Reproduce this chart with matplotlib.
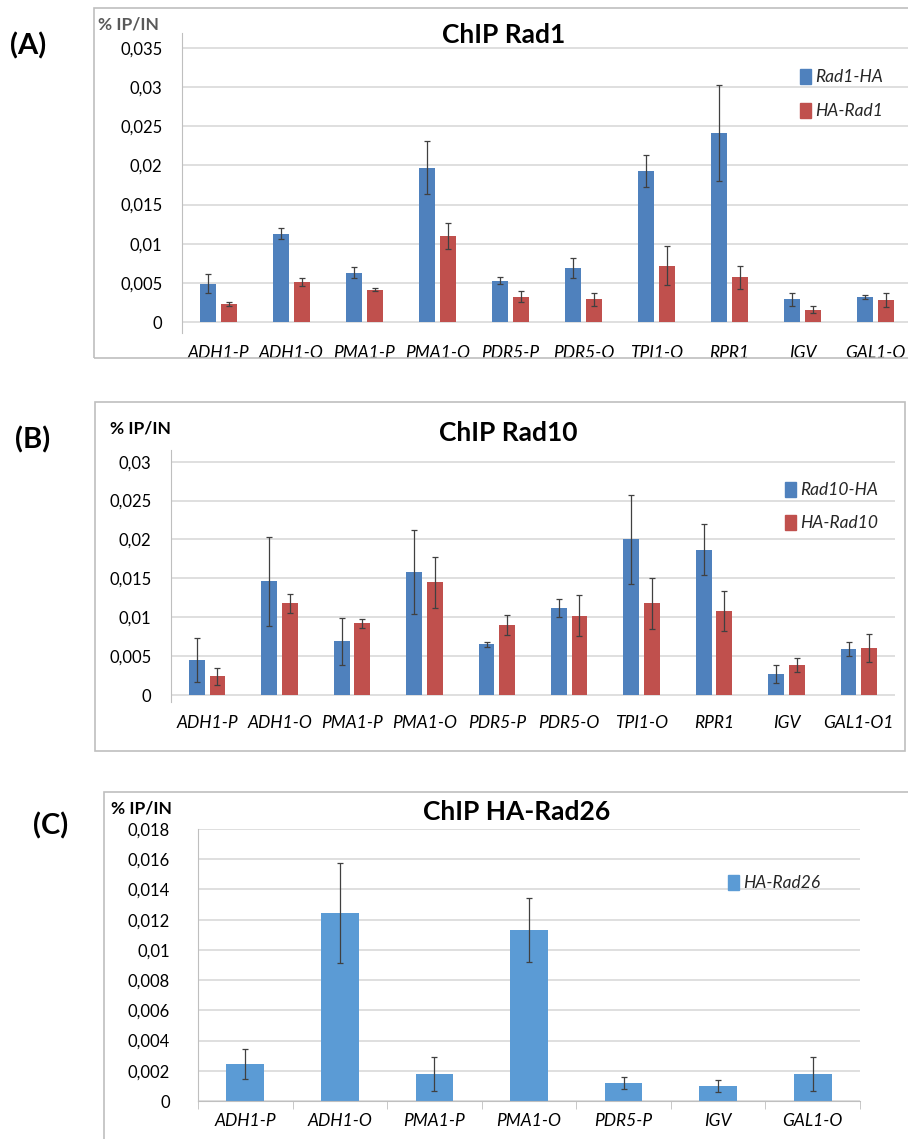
import matplotlib
matplotlib.use("Agg")
import matplotlib.pyplot as plt
from matplotlib.patches import Rectangle
import numpy as np

plt.rcParams['font.family'] = ['Lato', 'DejaVu Sans']

# ---------------- data ----------------
genes_a = ['ADH1-P', 'ADH1-O', 'PMA1-P', 'PMA1-O', 'PDR5-P', 'PDR5-O', 'TPI1-O', 'RPR1', 'IGV', 'GAL1-O']
rad1_ha = [0.0049, 0.0113, 0.0063, 0.0197, 0.0053, 0.0069, 0.0193, 0.0241, 0.0029, 0.0032]
rad1_ha_err = [0.0012, 0.0007, 0.0007, 0.0034, 0.0005, 0.0013, 0.0020, 0.0061, 0.0008, 0.0003]
ha_rad1 = [0.0023, 0.0051, 0.0041, 0.0110, 0.0032, 0.0029, 0.0072, 0.0057, 0.0016, 0.0028]
ha_rad1_err = [0.0003, 0.0005, 0.0002, 0.0017, 0.0007, 0.0008, 0.0025, 0.0015, 0.0005, 0.0009]

genes_b = ['ADH1-P', 'ADH1-O', 'PMA1-P', 'PMA1-O', 'PDR5-P', 'PDR5-O', 'TPI1-O', 'RPR1', 'IGV', 'GAL1-O1']
rad10_ha = [0.0045, 0.0146, 0.0069, 0.0158, 0.0065, 0.0112, 0.0200, 0.0187, 0.0027, 0.0059]
rad10_ha_err = [0.0028, 0.0057, 0.0030, 0.0054, 0.0003, 0.0012, 0.0057, 0.0033, 0.0011, 0.0009]
ha_rad10 = [0.0024, 0.0118, 0.0092, 0.0145, 0.0090, 0.0102, 0.0118, 0.0108, 0.0039, 0.0061]
ha_rad10_err = [0.0011, 0.0012, 0.0006, 0.0033, 0.0013, 0.0026, 0.0033, 0.0026, 0.0009, 0.0018]

genes_c = ['ADH1-P', 'ADH1-O', 'PMA1-P', 'PMA1-O', 'PDR5-P', 'IGV', 'GAL1-O']
ha_rad26 = [0.00243, 0.01246, 0.00179, 0.01131, 0.00117, 0.00097, 0.00179]
ha_rad26_err = [0.0010, 0.0033, 0.0011, 0.0021, 0.0004, 0.0004, 0.0011]

yticks_a = [0, 0.005, 0.01, 0.015, 0.02, 0.025, 0.03, 0.035]
yticks_b = [0, 0.005, 0.01, 0.015, 0.02, 0.025, 0.03]
yticks_c = [0, 0.002, 0.004, 0.006, 0.008, 0.01, 0.012, 0.014, 0.016, 0.018]

BLUE = '#4F81BD'
RED = '#C0504D'
BLUE_C = '#5B9BD5'
GRID = '#D9D9D9'
ERR = '#404040'

W, H = 908, 1139
fig = plt.figure(figsize=(W / 100, H / 100), dpi=100)


def px(x0, y0, x1, y1):
    return [x0 / W, 1 - y1 / H, (x1 - x0) / W, (y1 - y0) / H]


def comma(v):
    return ('%g' % v).replace('.', ',')


def frame(x0, y0, x1, y1):
    fig.patches.append(Rectangle((x0 / W, 1 - y1 / H), (x1 - x0) / W, (y1 - y0) / H,
                                 transform=fig.transFigure, fill=False,
                                 edgecolor='#BFBFBF', lw=1.2))


def style(ax, yticks, labels):
    ax.set_yticks(yticks)
    ax.set_yticklabels([comma(t) for t in yticks], fontsize=12)
    ax.set_xticks(np.arange(len(labels)))
    ax.set_xticklabels(labels, fontsize=12.5, style='italic')
    ax.tick_params(axis='y', length=0, pad=14)
    ax.tick_params(axis='x', length=0, pad=9)
    for y in yticks:
        ax.axhline(y, color=GRID, lw=1.2, zorder=0)
    for s in ['top', 'right', 'bottom']:
        ax.spines[s].set_visible(False)
    ax.spines['left'].set_color('#BFBFBF')
    ax.patch.set_alpha(0)


def legend_entries(x, ys, names, colors):
    for y, name, c in zip(ys, names, colors):
        fig.patches.append(Rectangle((x / W, 1 - (y + 7) / H), 11 / W, 15 / H,
                                     transform=fig.transFigure, color=c))
        fig.text((x + 15) / W, 1 - y / H, name, fontsize=12.5, style='italic',
                 va='center', ha='left', color='#262626')


# ---------------- panel A ----------------
frame(94, 8, 920, 358)
ax = fig.add_axes(px(182, 33, 912, 333))
x = np.arange(len(genes_a))
ek = dict(ecolor=ERR, elinewidth=0.9, capsize=2.5, capthick=0.9)
ax.bar(x - 0.145, rad1_ha, 0.23, color=BLUE, yerr=rad1_ha_err, error_kw=ek, zorder=2)
ax.bar(x + 0.145, ha_rad1, 0.23, color=RED, yerr=ha_rad1_err, error_kw=ek, zorder=2)
ax.set_xlim(-0.5, 9.5)
ax.set_ylim(-0.0014, 0.0369)
style(ax, yticks_a, genes_a)
fig.text(504 / W, 1 - 35 / H, 'ChIP Rad1', fontsize=19, weight='bold', ha='center', va='center')
fig.text(98 / W, 1 - 24 / H, '% IP/IN', fontsize=12.5, weight='bold', color='#595959', ha='left', va='center')
fig.text(10 / W, 1 - 46 / H, '(A)', fontsize=21, weight='bold', ha='left', va='center')
legend_entries(800, [77, 111], ['Rad1-HA', 'HA-Rad1'], [BLUE, RED])

# ---------------- panel B ----------------
frame(95, 402, 905, 751)
ax = fig.add_axes(px(171, 450, 895, 702))
x = np.arange(len(genes_b))
ax.bar(x - 0.142, rad10_ha, 0.22, color=BLUE, yerr=rad10_ha_err, error_kw=ek, zorder=2)
ax.bar(x + 0.142, ha_rad10, 0.22, color=RED, yerr=ha_rad10_err, error_kw=ek, zorder=2)
ax.set_xlim(-0.5, 9.5)
ax.set_ylim(-0.0009, 0.0315)
style(ax, yticks_b, genes_b)
fig.text(508 / W, 1 - 433 / H, 'ChIP Rad10', fontsize=19, weight='bold', ha='center', va='center')
fig.text(110 / W, 1 - 428 / H, '% IP/IN', fontsize=12.5, weight='bold', ha='left', va='center')
fig.text(15 / W, 1 - 440 / H, '(B)', fontsize=21, weight='bold', ha='left', va='center')
legend_entries(785, [490, 523], ['Rad10-HA', 'HA-Rad10'], [BLUE, RED])

# ---------------- panel C ----------------
frame(104, 792, 920, 1145)
ax = fig.add_axes(px(198, 829, 860, 1101))
x = np.arange(len(genes_c))
ax.bar(x, ha_rad26, 0.4, color=BLUE_C, yerr=ha_rad26_err, error_kw=ek, zorder=2)
ax.set_xlim(-0.5, 6.5)
ax.set_ylim(0, 0.018)
style(ax, yticks_c, genes_c)
ax.spines['bottom'].set_visible(True)
ax.spines['bottom'].set_color('#BFBFBF')
ax.set_xticks(np.arange(-0.5, 7, 1.0), minor=True)
ax.tick_params(axis='x', which='minor', length=6, color='#BFBFBF', direction='out')
ax.tick_params(axis='y', pad=20)
fig.text(517 / W, 1 - 812 / H, 'ChIP HA-Rad26', fontsize=19, weight='bold', ha='center', va='center')
fig.text(111 / W, 1 - 808 / H, '% IP/IN', fontsize=12.5, weight='bold', ha='left', va='center')
fig.text(33 / W, 1 - 826 / H, '(C)', fontsize=21, weight='bold', ha='left', va='center')
legend_entries(728, [883], ['HA-Rad26'], [BLUE_C])

fig.savefig('out.png', dpi=100)
